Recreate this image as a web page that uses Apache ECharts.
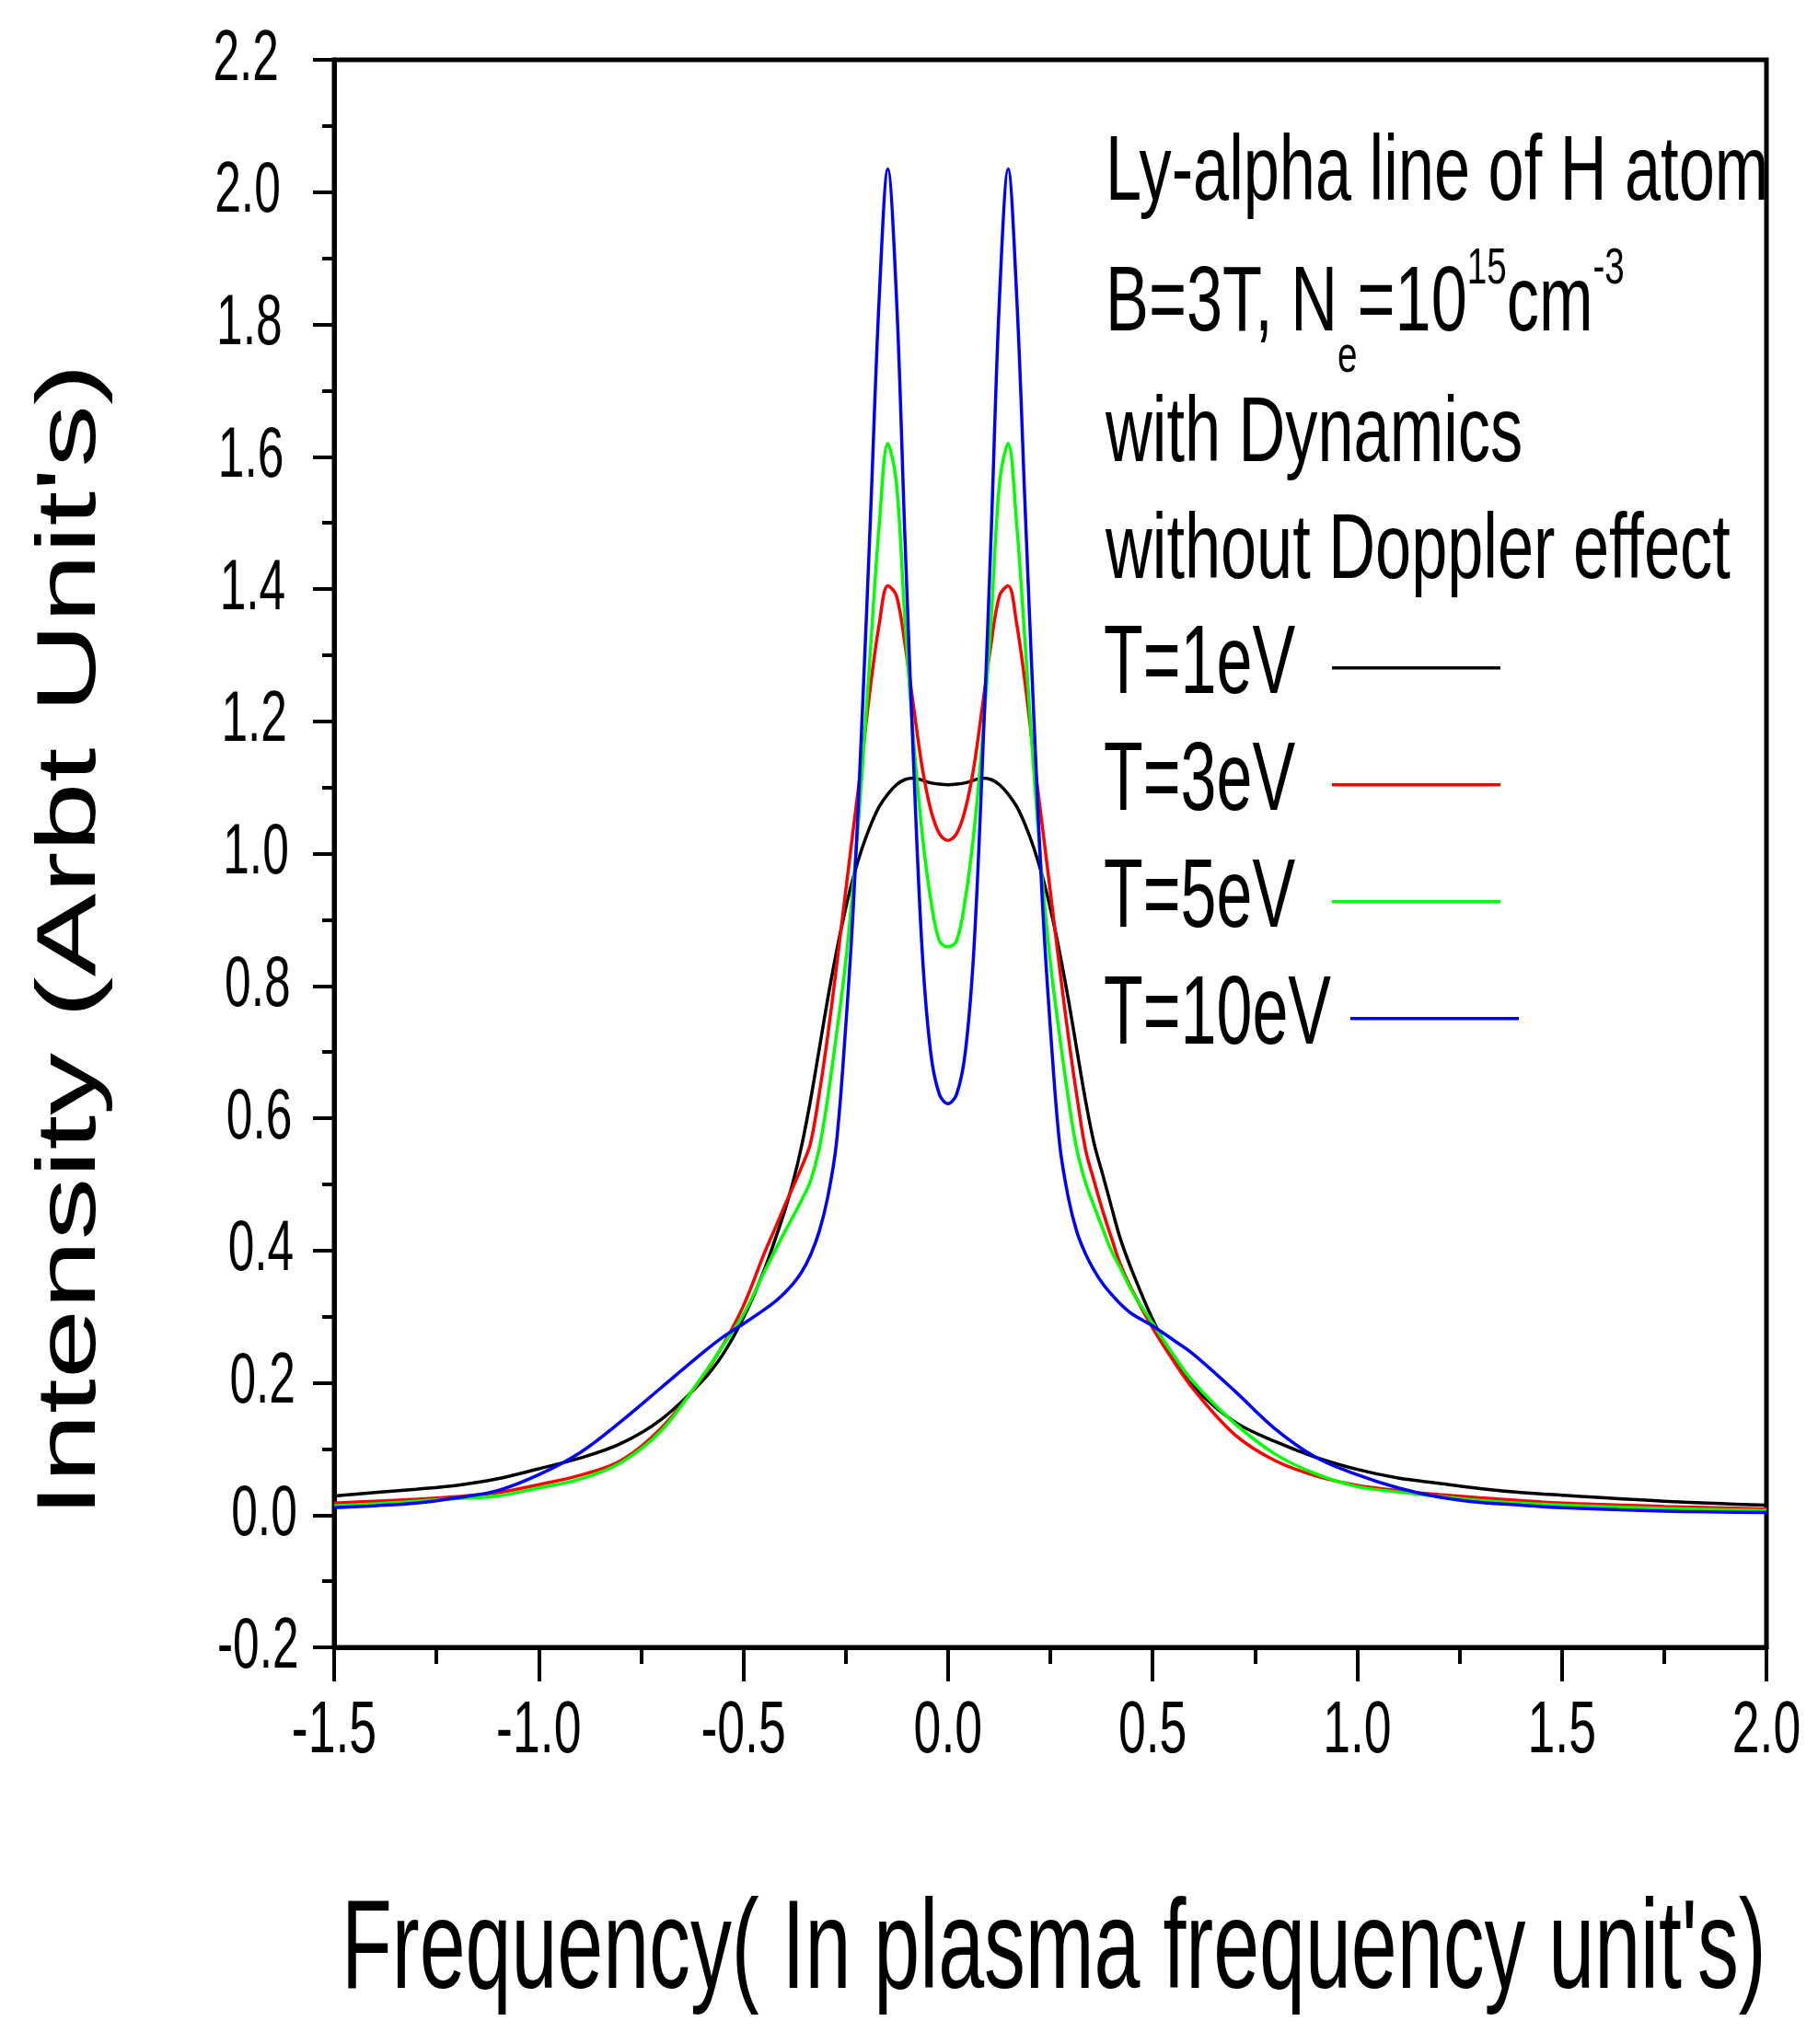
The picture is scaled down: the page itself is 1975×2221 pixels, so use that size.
<!DOCTYPE html>
<html>
<head>
    <meta charset="utf-8">
    <title>Ly-alpha line of H atom</title>
    <script src="https://cdn.jsdelivr.net/npm/echarts@6.0.0/dist/echarts.min.js"></script>
    <style>
        html, body { margin: 0; padding: 0; background: #fff; }
        #chart { width: 1975px; height: 2221px; }
    </style>
</head>
<body>
    <div id="chart"></div>
    <script>
        // frequency (plasma frequency units), shared by all four curves
        const freq = [-1.5, -1.4, -1.3, -1.2, -1.1, -1.0, -0.9, -0.8, -0.7, -0.6, -0.55, -0.5, -0.45,
            -0.42, -0.399, -0.378, -0.357, -0.336, -0.315, -0.294, -0.273, -0.252, -0.231, -0.21,
            -0.189, -0.168, -0.147, -0.126, -0.105, -0.084, -0.063, -0.042, -0.021, 0,
            0.021, 0.042, 0.063, 0.084, 0.105, 0.126, 0.147, 0.168, 0.189, 0.21, 0.231, 0.252,
            0.273, 0.294, 0.315, 0.336, 0.357, 0.378, 0.399, 0.42,
            0.45, 0.5, 0.55, 0.6, 0.7, 0.8, 0.9, 1.0, 1.1, 1.2, 1.3, 1.4, 1.5, 1.75, 2.0];

        const t1eV = [0.029, 0.034, 0.039, 0.045, 0.055, 0.07, 0.086, 0.108, 0.145, 0.203, 0.243, 0.298, 0.369,
            0.421, 0.46, 0.505, 0.56, 0.627, 0.703, 0.78, 0.85, 0.912, 0.965, 1.008,
            1.043, 1.071, 1.09, 1.104, 1.112, 1.114, 1.111, 1.107, 1.105, 1.104,
            1.105, 1.107, 1.111, 1.114, 1.112, 1.104, 1.09, 1.071, 1.043, 1.008, 0.965, 0.912,
            0.85, 0.78, 0.703, 0.627, 0.562, 0.515, 0.467, 0.42,
            0.369, 0.296, 0.236, 0.194, 0.141, 0.111, 0.087, 0.069, 0.056, 0.048, 0.04, 0.034, 0.030, 0.021, 0.015];

        const t3eV = [0.018, 0.021, 0.024, 0.028, 0.034, 0.046, 0.06, 0.082, 0.132, 0.208, 0.257, 0.316, 0.394,
            0.437, 0.468, 0.497, 0.527, 0.562, 0.635, 0.724, 0.826, 0.933, 1.039, 1.144,
            1.255, 1.347, 1.405, 1.39, 1.316, 1.222, 1.13, 1.066, 1.03, 1.02,
            1.03, 1.066, 1.13, 1.222, 1.316, 1.39, 1.405, 1.347, 1.255, 1.144, 1.039, 0.933,
            0.826, 0.724, 0.633, 0.553, 0.505, 0.46, 0.42, 0.381,
            0.34, 0.283, 0.234, 0.19, 0.122, 0.082, 0.059, 0.045, 0.037, 0.031, 0.026, 0.022, 0.018, 0.013, 0.009];

        const t5eV = [0.014, 0.017, 0.021, 0.025, 0.029, 0.041, 0.054, 0.079, 0.128, 0.21, 0.256, 0.303, 0.366,
            0.403, 0.428, 0.452, 0.477, 0.505, 0.553, 0.63, 0.724, 0.825, 0.956, 1.122,
            1.313, 1.497, 1.62, 1.56, 1.35, 1.171, 1.03, 0.93, 0.868, 0.859,
            0.868, 0.93, 1.03, 1.171, 1.35, 1.56, 1.62, 1.497, 1.313, 1.122, 0.956, 0.825,
            0.724, 0.63, 0.552, 0.503, 0.467, 0.433, 0.40, 0.375,
            0.338, 0.29, 0.243, 0.201, 0.139, 0.092, 0.062, 0.043, 0.035, 0.028, 0.022, 0.018, 0.015, 0.010, 0.007];

        const t10eV = [0.011, 0.014, 0.018, 0.026, 0.037, 0.061, 0.094, 0.141, 0.193, 0.245, 0.269, 0.289, 0.31,
            0.324, 0.336, 0.35, 0.368, 0.393, 0.428, 0.48, 0.56, 0.72, 0.923, 1.203,
            1.515, 1.841, 2.035, 1.842, 1.474, 1.136, 0.852, 0.698, 0.636, 0.622,
            0.636, 0.698, 0.852, 1.136, 1.474, 1.842, 2.035, 1.841, 1.515, 1.203, 0.923, 0.72,
            0.56, 0.48, 0.428, 0.395, 0.37, 0.35, 0.334, 0.32,
            0.304, 0.286, 0.265, 0.243, 0.188, 0.13, 0.087, 0.061, 0.041, 0.027, 0.019, 0.015, 0.011, 0.006, 0.004];

        const seriesNames = ['T=1eV', 'T=3eV', 'T=5eV', 'T=10eV'];
        const seriesColors = ['#000000', '#ff0000', '#00ff00', '#0000ff'];
        const seriesValues = [t1eV, t3eV, t5eV, t10eV];

        // tick labels of both axes
        const xTicks = [-1.5, -1.0, -0.5, 0.0, 0.5, 1.0, 1.5, 2.0];
        const yTicks = [-0.2, 0.0, 0.2, 0.4, 0.6, 0.8, 1.0, 1.2, 1.4, 1.6, 1.8, 2.0, 2.2];

        const sans = '"Liberation Sans", Arial, sans-serif';
        const black = '#000';

        const chart = echarts.init(document.getElementById('chart'), null, { renderer: 'canvas' });

        const series = seriesNames.map((name, k) => ({
            name: name,
            type: 'line',
            data: freq.map((x, i) => [x, seriesValues[k][i]]),
            symbol: 'none',
            smooth: 0.35,
            color: seriesColors[k],
            lineStyle: { color: seriesColors[k], width: 3.5 },
            z: 2 + k
        }));

        // legend shows only the line samples; names are drawn as squeezed text below
        const legendBase = {
            orient: 'vertical',
            align: 'left',
            padding: 0,
            icon: 'rect',
            itemWidth: 183,
            itemHeight: 3.5,
            itemGap: 123.5,
            selectedMode: false,
            formatter: () => '',
            textStyle: { fontSize: 2, lineHeight: 2 }
        };

        chart.setOption({
            animation: false,
            backgroundColor: '#ffffff',
            grid: {
                left: 363, right: 56, top: 65, bottom: 431,
                containLabel: false,
                outerBoundsMode: 'none',
                show: true,
                borderColor: black,
                borderWidth: 5,
                backgroundColor: 'transparent'
            },
            xAxis: {
                type: 'value',
                min: -1.5, max: 2.0, interval: 0.5,
                axisLine: { show: true, onZero: false, lineStyle: { color: black, width: 5 } },
                axisTick: { show: true, length: 37, lineStyle: { color: black, width: 4 } },
                minorTick: { show: true, splitNumber: 2, length: 18, lineStyle: { color: black, width: 4 } },
                splitLine: { show: false },
                axisLabel: { show: false }
            },
            yAxis: {
                type: 'value',
                min: -0.2, max: 2.2, interval: 0.2,
                axisLine: { show: true, onZero: false, lineStyle: { color: black, width: 5 } },
                axisTick: { show: true, length: 23, lineStyle: { color: black, width: 4 } },
                minorTick: { show: true, splitNumber: 2, length: 13, lineStyle: { color: black, width: 4 } },
                splitLine: { show: false },
                axisLabel: { show: false }
            },
            legend: [
                Object.assign({}, legendBase, { data: seriesNames.slice(0, 3), left: 1447, top: 724 }),
                Object.assign({}, legendBase, { data: seriesNames.slice(3), left: 1467, top: 1105 })
            ],
            series: series
        });

        // condensed text: measure, then squeeze with scaleX
        const ctx = document.createElement('canvas').getContext('2d');
        function textWidth(str, font) {
            ctx.font = font;
            return ctx.measureText(str).width;
        }
        function label(text, x, y, size, sx, align, extra) {
            return Object.assign({
                type: 'text', x: x, y: y, scaleX: sx, silent: true,
                style: { text: text, font: size + 'px ' + sans, fill: black, align: align, verticalAlign: 'middle' }
            }, extra || {});
        }

        const graphics = [];

        // tick labels, placed through the axes
        xTicks.forEach(v => {
            const p = chart.convertToPixel({ gridIndex: 0 }, [v, -0.2]);
            graphics.push(label(v.toFixed(1), p[0], p[1] + 92, 80, 0.67, 'center'));
        });
        yTicks.forEach(v => {
            const p = chart.convertToPixel({ gridIndex: 0 }, [-1.5, v]);
            const drift = (2.2 - v) * 9;
            graphics.push(label(v.toFixed(1), p[0] - 60 + drift, p[1], 78, 0.66, 'right'));
        });

        // annotation block
        const annoSX = 0.703;
        const annoLeft = 1201;
        graphics.push(label('Ly-alpha line of H atom', annoLeft, 189, 100, annoSX, 'left'));

        const line2 = [
            ['B=3T, N', 100, 0], ['e', 55, 58], ['=10', 100, 0],
            ['15', 55, -38], ['cm', 100, 0], ['-3', 55, -38]
        ];
        let cursor = annoLeft;
        line2.forEach(([t, size, dy]) => {
            graphics.push(label(t, cursor, 331 + dy, size, annoSX, 'left'));
            cursor += textWidth(t, size + 'px ' + sans) * annoSX;
        });

        graphics.push(label('with Dynamics', annoLeft, 473, 100, annoSX, 'left'));
        graphics.push(label('without Doppler effect', annoLeft, 600, 100, annoSX, 'left'));

        // legend names
        seriesNames.forEach((name, k) => {
            graphics.push(label(name, 1199, 724 + 127 * k, 106, 0.66, 'left'));
        });

        // axis titles
        graphics.push(label("Intensity (Arbt Unit's)", 78, 1649, 91, 1.49, 'left', { rotation: Math.PI / 2 }));
        graphics.push(label("Frequency( In plasma frequency unit's)", 371, 2122, 138, 0.65, 'left'));

        chart.setOption({ graphic: graphics });
    </script>
</body>
</html>
